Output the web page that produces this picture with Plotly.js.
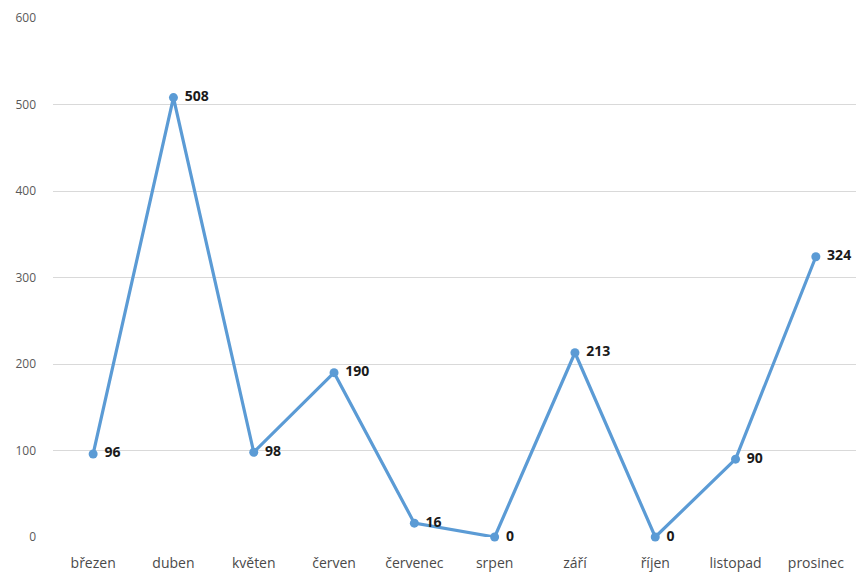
<!DOCTYPE html>
<html><head><meta charset="utf-8">
<script src="https://cdn.plot.ly/plotly-3.0.1.min.js"></script>
<style>html,body{margin:0;padding:0;background:#fff}#c{width:866px;height:574px}</style>
</head><body><div id="c"></div>
<script>
const months = ["březen","duben","květen","červen","červenec","srpen","září","říjen","listopad","prosinec"];
const values = [96,508,98,190,16,0,213,0,90,324];
const yTicks = [0,100,200,300,400,500,600];

Plotly.newPlot('c', [{
  x: months, y: values, type: 'scatter', mode: 'lines+markers+text',
  text: values.map(v => '\u2009\u2009' + v), textposition: 'middle right',
  textfont: {family: 'Open Sans, sans-serif', size: 14, color: '#1a1a1a', weight: 'bold'},
  line: {color: '#5b9bd5', width: 3.2},
  marker: {color: '#5b9bd5', size: 9},
  cliponaxis: false, hoverinfo: 'none'
}], {
  width: 866, height: 574,
  margin: {l: 53, r: 10, t: 18, b: 37},
  paper_bgcolor: '#fff', plot_bgcolor: '#fff',
  showlegend: false,
  xaxis: {type: 'category', range: [-0.5, 9.5], autorange: false, showgrid: false, zeroline: false, showline: false, ticks: '',
    ticklabelstandoff: 16,
    tickfont: {family: 'Open Sans, sans-serif', size: 14, color: '#4a4a4a'}},
  yaxis: {range: [0, 600], autorange: false, tickvals: yTicks, showgrid: true, gridcolor: '#d9d9d9', gridwidth: 1,
    zeroline: false, showline: false, ticks: '', ticklabelstandoff: 16,
    tickfont: {family: 'Open Sans, sans-serif', size: 12, color: '#595959'}}
}, {staticPlot: true});
</script></body></html>
